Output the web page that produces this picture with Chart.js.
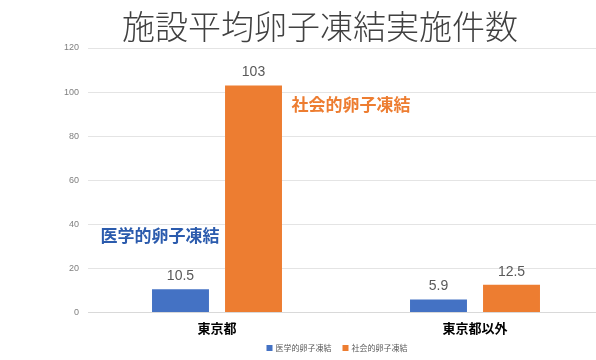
<!DOCTYPE html>
<html>
<head>
<meta charset="utf-8">
<script src="https://cdn.jsdelivr.net/npm/chart.js@4"></script>
<style>
  html, body { margin: 0; padding: 0; background: #fff; overflow: hidden; }
  #wrap { width: 604px; height: 360px; }
</style>
</head>
<body>
<div id="wrap"><canvas id="chart"></canvas></div>
<script>
const title = "施設平均卵子凍結実施件数";
const regions = ["東京都", "東京都以外"];
const medical = [10.5, 5.9];
const social = [103, 12.5];
const seriesNames = ["医学的卵子凍結", "社会的卵子凍結"];
const seriesColors = ["#4472C4", "#ED7D31"];
const yTicks = [0, 20, 40, 60, 80, 100, 120];

const JP = '"Noto Sans CJK JP", "Noto Sans", sans-serif';

// title, value labels, series notes and a small legend at the bottom
const extras = {
  id: "extras",
  afterDatasetsDraw(chart) {
    const ctx = chart.ctx;
    ctx.save();

    ctx.fillStyle = "#404040";
    ctx.font = "300 33px " + JP;
    ctx.textAlign = "center";
    ctx.textBaseline = "middle";
    ctx.fillText(title, 320, 26);

    ctx.font = "14px 'Liberation Sans', Arial, sans-serif";
    ctx.fillStyle = "#595959";
    chart.data.datasets.forEach((ds, i) => {
      chart.getDatasetMeta(i).data.forEach((bar, j) => {
        ctx.fillText(String(ds.data[j]), bar.x, bar.y - 13);
      });
    });

    ctx.font = "bold 17px " + JP;
    ctx.textAlign = "left";
    const blue = chart.getDatasetMeta(0).data[0];
    const orange = chart.getDatasetMeta(1).data[0];
    const y = chart.scales.y;
    ctx.fillStyle = "#2B5BAD";
    ctx.fillText(seriesNames[0], blue.x - 29 - 51, y.getPixelForValue(35));
    ctx.fillStyle = "#ED7D31";
    ctx.fillText(seriesNames[1], orange.x + 29 + 9, y.getPixelForValue(94.5));

    // legend
    ctx.font = "8px " + JP;
    const widths = seriesNames.map(n => ctx.measureText(n).width);
    const total = widths.reduce((a, w) => a + 6 + 3 + w, 0) + 11;
    let lx = 337 - total / 2;
    seriesNames.forEach((n, i) => {
      ctx.fillStyle = seriesColors[i];
      ctx.fillRect(lx, 345, 6, 6);
      ctx.fillStyle = "#595959";
      ctx.fillText(n, lx + 9, 348);
      lx += 9 + widths[i] + 11;
    });
    ctx.restore();
  }
};

new Chart(document.getElementById("chart"), {
  type: "bar",
  data: {
    labels: regions,
    datasets: [
      {
        label: seriesNames[0],
        data: medical,
        backgroundColor: seriesColors[0],
        barPercentage: 0.78,
        categoryPercentage: 0.566
      },
      {
        label: seriesNames[1],
        data: social,
        backgroundColor: seriesColors[1],
        barPercentage: 0.78,
        categoryPercentage: 0.566
      }
    ]
  },
  options: {
    responsive: true,
    maintainAspectRatio: false,
    animation: false,
    layout: {
      padding: { top: 48, left: 0, right: 0, bottom: 16 }
    },
    plugins: {
      legend: { display: false },
      tooltip: { enabled: false }
    },
    scales: {
      x: {
        grid: { display: false, drawTicks: false },
        border: { color: "#d9d9d9" },
        ticks: {
          color: "#000",
          padding: 8,
          font: { size: 13, weight: "bold", family: JP }
        }
      },
      y: {
        min: 0,
        max: 120,
        afterFit: (scale) => { scale.width = 88; },
        afterBuildTicks: (scale) => { scale.ticks = yTicks.map(v => ({ value: v })); },
        border: { display: false },
        grid: { color: "#e4e4e4", drawTicks: false },
        ticks: {
          color: "#7f7f7f",
          padding: 9,
          font: { size: 9, family: "'Liberation Sans', Arial, sans-serif" }
        }
      }
    }
  },
  plugins: [extras]
});
</script>
</body>
</html>
